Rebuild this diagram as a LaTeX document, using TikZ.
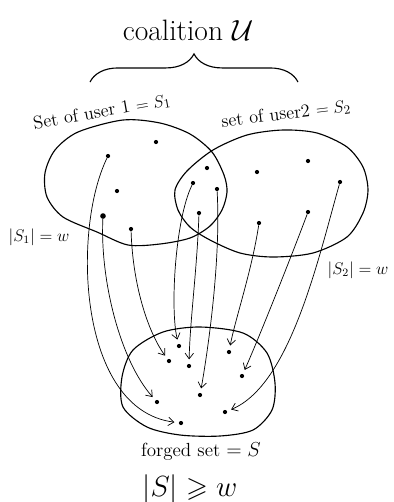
\documentclass[tikz,border=0pt]{standalone}
\usepackage{amssymb}
\usetikzlibrary{decorations.pathreplacing,arrows.meta}
\tikzset{
  dot/.style={circle,fill=black,inner sep=0pt,minimum size=3pt},
  bigdot/.style={dot,minimum size=4pt},
  setline/.style={line width=0.8pt},
  maps/.style={-{Straight Barb[length=4pt,width=6pt]},line width=0.5pt,shorten >=3pt},
}
\newcommand{\fs}[1]{\fontsize{#1}{#1}\selectfont}
\begin{document}
\begin{tikzpicture}[x=0.025cm,y=-0.025cm]
\useasboundingbox (0,0) rectangle (394,502);

% Coalition and its brace
\node[font=\fs{21}] (title) at (188,30) {coalition $\mathcal{U}$};
\draw[setline,decorate,decoration={brace,amplitude=20pt}] (90,82) -- (298,82);

% Set of user 1
\draw[setline] plot[smooth cycle] coordinates {(78,132) (123,120) (160,123) (190,134) (212,152) (224,175) (227,192) (222,210) (210,226) (190,238) (160,244) (128,245) (97,232) (63,217) (47,197) (45,173) (55,150)};
% Set of user 2
\draw[setline] plot[smooth cycle] coordinates {(175,190) (187,171) (213,150) (247,135) (283,130) (317,133) (347,147) (363,167) (368,190) (363,213) (347,237) (313,253) (273,257) (240,253) (210,240) (190,227) (178,210)};
% Forged set
\draw[setline] plot[smooth cycle] coordinates {(200,327) (163,332) (133,350) (122,377) (123,407) (147,427) (180,435) (220,436) (253,430) (272,410) (275,383) (267,353) (243,333)};

% Labels
\node[rotate=10,inner sep=1pt,font=\fs{13}] (lab1) at (102,112) {Set of user 1 $= S_1$};
\node[rotate=7,inner sep=1pt,font=\fs{13}] (lab2) at (286,114) {set of user2 $= S_2$};
\node[font=\fs{12}] (card1) at (39,237) {$|S_1|=w$};
\node[font=\fs{12}] (card2) at (358,270) {$|S_2|=w$};
\node[font=\fs{13.5}] (lab3) at (201,452) {forged set $= S$};
\node[font=\fs{20}] (card3) at (190,489) {$|S|\geqslant w$};

% Elements of S_1 only
\node[dot] (u1) at (108,156) {};
\node[dot] (u2) at (156,142) {};
\node[dot] (u3) at (117,191) {};
\node[bigdot] (u4) at (103,216) {};
\node[dot] (u5) at (131,229) {};
% Elements of both
\node[dot] (m1) at (207,168) {};
\node[dot] (m2) at (193,183) {};
\node[dot] (m3) at (217,189) {};
\node[dot] (m4) at (199,213) {};
% Elements of S_2 only
\node[dot] (v1) at (257,172) {};
\node[dot] (v2) at (308,161) {};
\node[dot] (v3) at (340,182) {};
\node[dot] (v4) at (308,212) {};
\node[dot] (v5) at (259,223) {};
% Elements of the forged set
\node[dot] (f1) at (179,346) {};
\node[dot] (f2) at (169,361) {};
\node[dot] (f3) at (189,366) {};
\node[dot] (f4) at (229,352) {};
\node[dot] (f5) at (242,376) {};
\node[dot] (f6) at (157,402) {};
\node[dot] (f7) at (200,395) {};
\node[dot] (f8) at (225,412) {};
\node[dot] (f9) at (181,423) {};

% Each element goes into S
\draw[maps] (u1) .. controls (72,230) and (78,410) .. (f9);
\draw[maps] (u4) .. controls (100,280) and (120,360) .. (f6);
\draw[maps] (u5) .. controls (133,290) and (150,335) .. (f2);
\draw[maps] (m2) .. controls (175,220) and (170,310) .. (f1);
\draw[maps] (m4) .. controls (197,270) and (190,320) .. (f3);
\draw[maps] (m3) .. controls (221,260) and (208,350) .. (f7);
\draw[maps] (v5) .. controls (252,270) and (235,320) .. (f4);
\draw[maps] (v4) .. controls (290,260) and (258,340) .. (f5);
\draw[maps] (v3) .. controls (318,260) and (290,385) .. (f8);
\end{tikzpicture}
\end{document}
